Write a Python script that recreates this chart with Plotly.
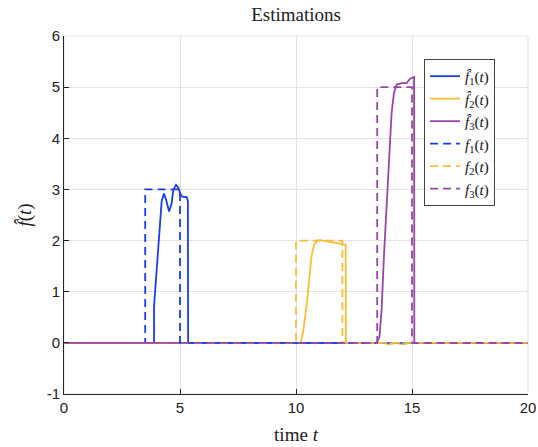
import plotly.graph_objects as go

# True signals (dashed)
t_f1 = [0, 3.5, 3.5, 5.0, 5.0, 20]
v_f1 = [0, 0, 3, 3, 0, 0]
t_f2 = [0, 10.0, 10.0, 12.0, 12.0, 20]
v_f2 = [0, 0, 2, 2, 0, 0]
t_f3 = [0, 13.5, 13.5, 15.0, 15.0, 20]
v_f3 = [0, 0, 5, 5, 0, 0]

# Estimates (solid)
t_h1 = [0, 3.88, 3.88, 3.99, 4.11, 4.21, 4.31, 4.40, 4.53, 4.64, 4.71, 4.83, 4.93, 5.03, 5.10, 5.29, 5.34, 5.35, 13.8, 14.0, 14.3, 14.6, 14.9, 20]
v_h1 = [0, 0, 0.71, 1.43, 2.28, 2.77, 2.92, 2.80, 2.57, 2.73, 2.99, 3.09, 3.03, 2.90, 2.86, 2.85, 2.77, 0, 0, -0.015, 0, -0.015, 0, 0]
t_h2 = [0, 10.2, 10.32, 10.47, 10.58, 10.67, 10.78, 10.92, 11.03, 11.47, 11.90, 11.98, 12.14, 12.15, 13.8, 14.0, 14.3, 14.6, 14.9, 20]
v_h2 = [0, 0, 0.25, 0.78, 1.30, 1.69, 1.92, 2.00, 2.01, 1.98, 1.94, 1.92, 1.92, 0, 0, -0.03, 0, -0.03, 0, 0]
t_h3 = [0, 13.48, 13.60, 13.69, 13.79, 13.91, 14.02, 14.12, 14.22, 14.34, 14.55, 14.77, 14.91, 15.06, 15.09, 15.10, 20]
v_h3 = [0, 0, 0.12, 0.65, 1.69, 2.73, 3.78, 4.49, 4.88, 5.05, 5.08, 5.08, 5.16, 5.20, 5.20, 0, 0]

x_ticks = [0, 5, 10, 15, 20]
y_ticks = [-1, 0, 1, 2, 3, 4, 5, 6]

BLUE = "#1a3cf7"
YEL = "#fbbd37"
PUR = "#9846a8"
SERIF = "Liberation Serif, DejaVu Serif, serif"
SANS = "Liberation Sans, Arial, sans-serif"

fig = go.Figure()
specs = [
    (t_h1, v_h1, BLUE, "solid", "<i>f̂</i><sub>1</sub>(<i>t</i>)"),
    (t_h2, v_h2, YEL, "solid", "<i>f̂</i><sub>2</sub>(<i>t</i>)"),
    (t_h3, v_h3, PUR, "solid", "<i>f̂</i><sub>3</sub>(<i>t</i>)"),
    (t_f1, v_f1, BLUE, "8px,5px", "<i>f</i><sub>1</sub>(<i>t</i>)"),
    (t_f2, v_f2, YEL, "8px,5px", "<i>f</i><sub>2</sub>(<i>t</i>)"),
    (t_f3, v_f3, PUR, "8px,5px", "<i>f</i><sub>3</sub>(<i>t</i>)"),
]
for t, v, c, d, name in specs:
    fig.add_trace(go.Scatter(x=t, y=v, mode="lines", name=name,
                             line=dict(color=c, width=1.8, dash=d)))

fig.update_layout(
    width=538, height=447,
    margin=dict(l=64, r=10, t=36, b=53, autoexpand=False),
    paper_bgcolor="white", plot_bgcolor="white",
    title=dict(text="Estimations", x=0.5, xanchor="center", xref="paper",
               y=0.969, yref="container", yanchor="middle", font=dict(family=SERIF, size=19, color="#222")),
    legend=dict(x=0.776, y=0.936, xanchor="left", yanchor="top",
                bgcolor="white", bordercolor="#444", borderwidth=1,
                font=dict(family=SERIF, size=15, color="#111"),
                itemwidth=30, tracegroupgap=0),
    showlegend=True,
)
fig.update_xaxes(range=[0, 20], tickvals=x_ticks, ticktext=[str(v) for v in x_ticks],
                 showgrid=True, gridcolor="#e3e3e3", gridwidth=1, automargin=False,
                 showline=True, linecolor="#262626", linewidth=1, mirror=False,
                 ticks="inside", ticklen=5, tickcolor="#262626",
                 tickfont=dict(family=SANS, size=15, color="#222"),
                 zeroline=False,
                 title=dict(text="time <i>t</i>", font=dict(family=SERIF, size=19, color="#222"), standoff=12))
fig.update_yaxes(range=[-1, 6], tickvals=y_ticks, ticktext=[str(v) for v in y_ticks],
                 showgrid=True, gridcolor="#e3e3e3", gridwidth=1, automargin=False,
                 showline=True, linecolor="#262626", linewidth=1, mirror=False,
                 ticks="inside", ticklen=5, tickcolor="#262626",
                 tickfont=dict(family=SANS, size=15, color="#222"),
                 zeroline=False,
                 title=dict(text="<i>f̂</i>(<i>t</i>)", font=dict(family=SERIF, size=19, color="#222"), standoff=10))
# light box on top/right
fig.add_shape(type="rect", xref="paper", yref="paper", x0=0, y0=0, x1=1, y1=1,
              line=dict(color="#e3e3e3", width=1), layer="below")

fig.write_html("out.html", config={"displayModeBar": False},
               post_script="document.body.style.margin='0';document.body.style.padding='0';")
